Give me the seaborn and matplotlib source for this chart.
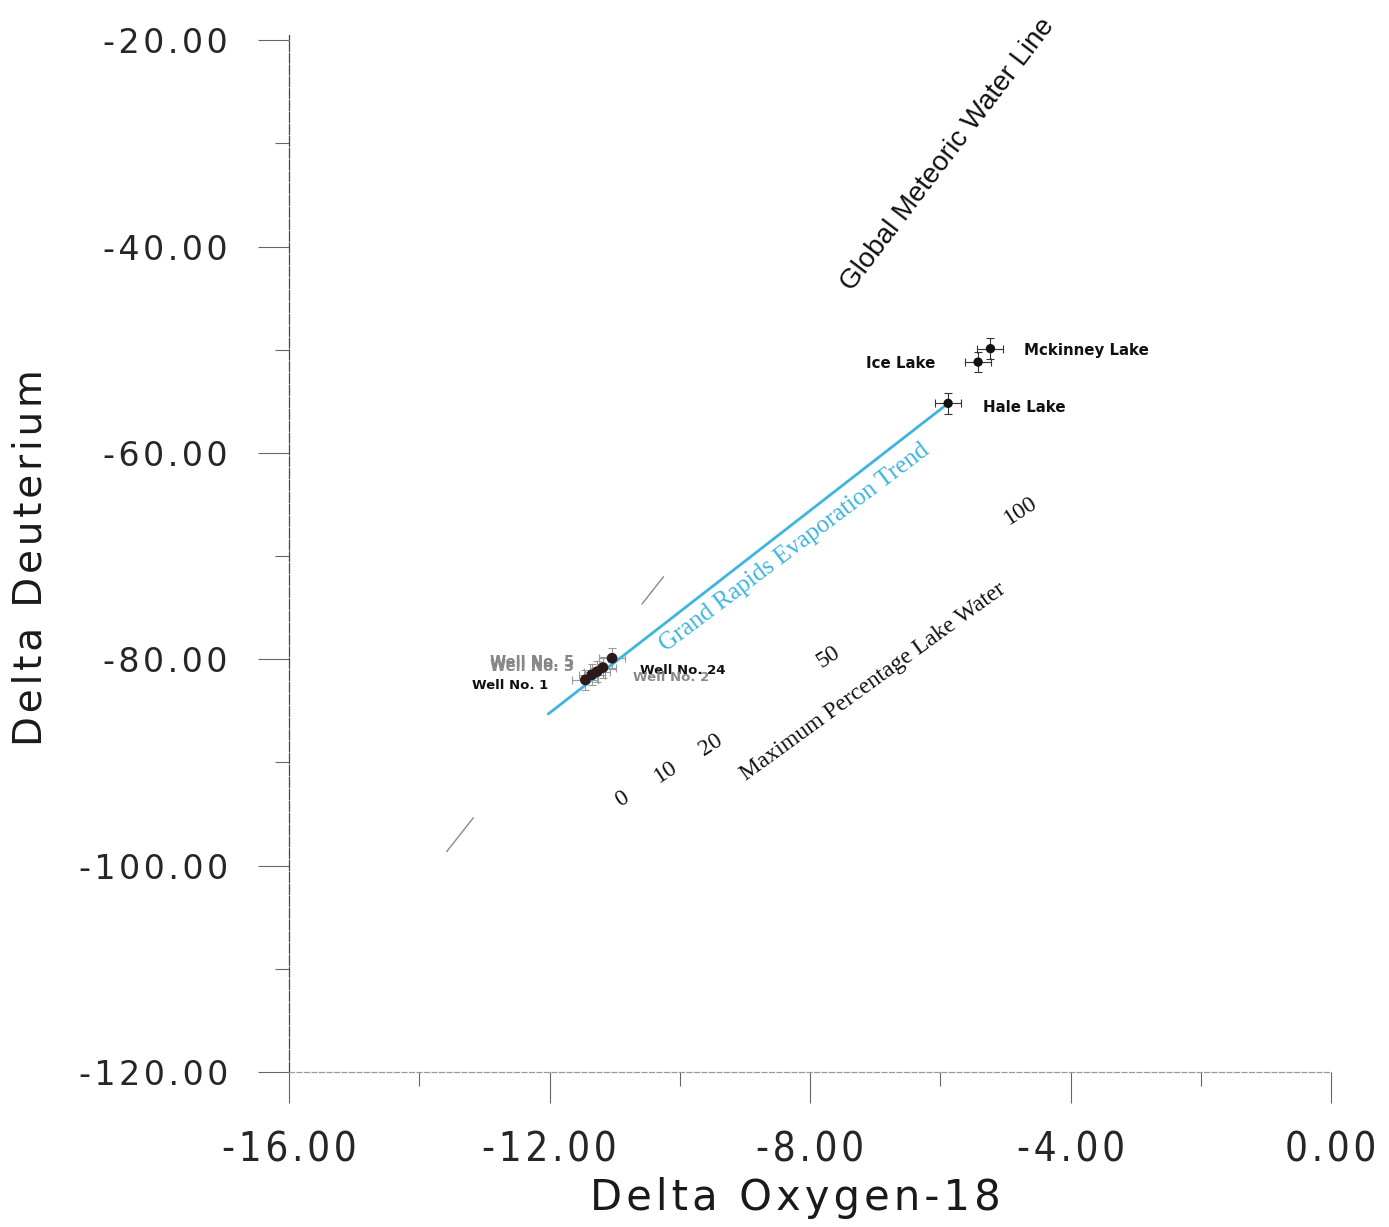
import numpy as np
import pandas as pd
import matplotlib
matplotlib.use("Agg")
import matplotlib.pyplot as plt
import seaborn as sns

# Stable isotope composition of sampled waters (per mil, VSMOW)
well_names = ["Well No. 5", "Well No. 24", "Well No. 2", "Well No. 3", "Well No. 1"]
well_o18 = [-11.04, -11.18, -11.27, -11.35, -11.45]
well_dd = [-79.9, -80.8, -81.2, -81.5, -82.0]

lake_names = ["Mckinney Lake", "Ice Lake", "Hale Lake"]
lake_o18 = [-5.23, -5.42, -5.88]
lake_dd = [-49.9, -51.2, -55.2]

# analytical uncertainty
o18_err = 0.2
dd_err = 1.0

# Grand Rapids evaporation trend end points
trend_o18 = [-12.02, -5.88]
trend_dd = [-85.3, -55.2]

# Global meteoric water line: dD = 8 * d18O + 10
gmwl_slope = 8.0
gmwl_intercept = 10.0
gmwl_pieces = [(-13.58, -13.17), (-10.58, -10.25)]

# Mixing scale: maximum percentage lake water
mix_pct = ["0", "10", "20", "50", "100"]
mix_pos = [(-10.88, -93.6), (-10.22, -90.9), (-9.53, -88.3), (-7.72, -79.8), (-4.77, -65.6)]

x_major = [-16, -12, -8, -4, 0]
x_minor = [-14, -10, -6, -2]
y_major = [-120, -100, -80, -60, -40, -20]
y_minor = [-110, -90, -70, -50, -30]


def spaced(s, gap="\u200a"):
    """Open up the letter spacing of a label."""
    return gap.join(s)


sns.set_theme(style="white")
plt.rcParams["font.family"] = ["DejaVu Sans"]

fig = plt.figure(figsize=(13.89, 12.27), dpi=100)
ax = fig.add_axes([0.2081, 0.1263, 0.7502, 0.8452])
ax.set_xlim(-16, 0)
ax.set_ylim(-120, -19.5)

wells = pd.DataFrame({"o18": well_o18, "dd": well_dd, "name": well_names})
lakes = pd.DataFrame({"o18": lake_o18, "dd": lake_dd, "name": lake_names})
trend = pd.DataFrame({"o18": trend_o18, "dd": trend_dd})

# meteoric water line (only faint fragments survive)
for a, b in gmwl_pieces:
    xs = np.array([a, b])
    ax.plot(xs, gmwl_slope * xs + gmwl_intercept, color="#8a8a8a", lw=1.0)

# evaporation trend
sns.lineplot(data=trend, x="o18", y="dd", ax=ax, color="#3db5de", lw=2.0,
             legend=False, zorder=3)

# error bars
ax.errorbar(well_o18, well_dd, xerr=o18_err, yerr=dd_err, fmt="none",
            ecolor="#9a9a9a", elinewidth=0.8, capsize=3, capthick=0.8, zorder=2)
ax.errorbar(lake_o18, lake_dd, xerr=o18_err, yerr=dd_err, fmt="none",
            ecolor="#333333", elinewidth=0.8, capsize=3, capthick=0.8, zorder=2)

sns.scatterplot(data=wells, x="o18", y="dd", ax=ax, color="#2a1a1a", s=60,
                edgecolor="none", legend=False, zorder=4)
sns.scatterplot(data=lakes, x="o18", y="dd", ax=ax, color="#111111", s=45,
                edgecolor="none", legend=False, zorder=4)

# point labels
well_lab = {
    "Well No. 5": ((-27, -3), "right", "#8a8080", 10.5),
    "Well No. 3": ((-13, 6), "right", "#8a8a8a", 10.5),
    "Well No. 1": ((-27, -4), "right", "#111111", 9.5),
    "Well No. 24": ((27, -2), "left", "#111111", 9.5),
    "Well No. 2": ((26, -4), "left", "#8a8a8a", 9.5),
}
for n, x, y in zip(well_names, well_o18, well_dd):
    off, ha, col, fs = well_lab[n]
    ax.annotate(n, (x, y), xytext=off, textcoords="offset points", ha=ha,
                va="center", fontsize=fs, fontweight="bold", color=col, zorder=5)

lake_lab = {
    "Mckinney Lake": ((24, -1), "left"),
    "Ice Lake": ((-31, -1), "right"),
    "Hale Lake": ((25, -3), "left"),
}
for n, x, y in zip(lake_names, lake_o18, lake_dd):
    off, ha = lake_lab[n]
    ax.annotate(n, (x, y), xytext=off, textcoords="offset points", ha=ha,
                va="center", fontsize=10.8, fontweight="bold", color="#111111",
                zorder=5)

ax.text(-8.23, -69.2, "Grand Rapids Evaporation Trend", rotation=37,
        rotation_mode="anchor", ha="center", va="center", color="#3db5de",
        fontsize=18, family="Liberation Serif")
ax.text(-7.03, -82.2, "Maximum Percentage Lake Water", rotation=36,
        rotation_mode="anchor", ha="center", va="center", color="#111111",
        fontsize=17, family="Liberation Serif")
ax.text(-5.88, -31.1, "Global Meteoric Water Line", rotation=52.7,
        rotation_mode="anchor", ha="center", va="center", color="#111111",
        fontsize=20, family="Liberation Sans")
for lab, (x, y) in zip(mix_pct, mix_pos):
    ax.text(x, y, lab, rotation=33, rotation_mode="anchor", ha="center",
            va="center", fontsize=17, family="Liberation Serif", color="#111111")

# axes styling
for s in ["top", "right"]:
    ax.spines[s].set_visible(False)
ax.spines["left"].set_color("#444444")
ax.spines["left"].set_linewidth(0.9)
ax.spines["left"].set_linestyle((0, (8, 1.5)))
ax.spines["bottom"].set_color("#9a9a9a")
ax.spines["bottom"].set_linewidth(0.9)
ax.spines["bottom"].set_linestyle((0, (4, 2)))

ax.set_xticks(x_major)
ax.set_xticks(x_minor, minor=True)
ax.set_yticks(y_major)
ax.set_yticks(y_minor, minor=True)
ax.set_xticklabels([spaced(f"{v:.2f}") for v in x_major], fontsize=29,
                   fontstretch="condensed")
ax.set_yticklabels([spaced(f"{v:.2f}") for v in y_major], fontsize=24)
ax.tick_params(axis="both", which="major", direction="out", length=22, width=0.8,
               color="#666666", bottom=True, left=True)
ax.tick_params(axis="both", which="minor", direction="out", length=10, width=0.8,
               color="#666666", bottom=True, left=True)
ax.tick_params(axis="y", which="major", pad=22)
ax.tick_params(axis="x", which="major", pad=20)

ax.set_xlabel(spaced("Delta Oxygen-18"), fontsize=30, color="#1a1a1a")
ax.set_ylabel(spaced("Delta Deuterium"), fontsize=28, color="#1a1a1a")
ax.xaxis.set_label_coords(0.4856, -0.1215)
ax.xaxis.label.set_va("center")
ax.yaxis.set_label_coords(-0.2486, 0.4957)
ax.yaxis.label.set_va("center")
ax.grid(False)

fig.savefig("out.png", dpi=100, facecolor="white")
